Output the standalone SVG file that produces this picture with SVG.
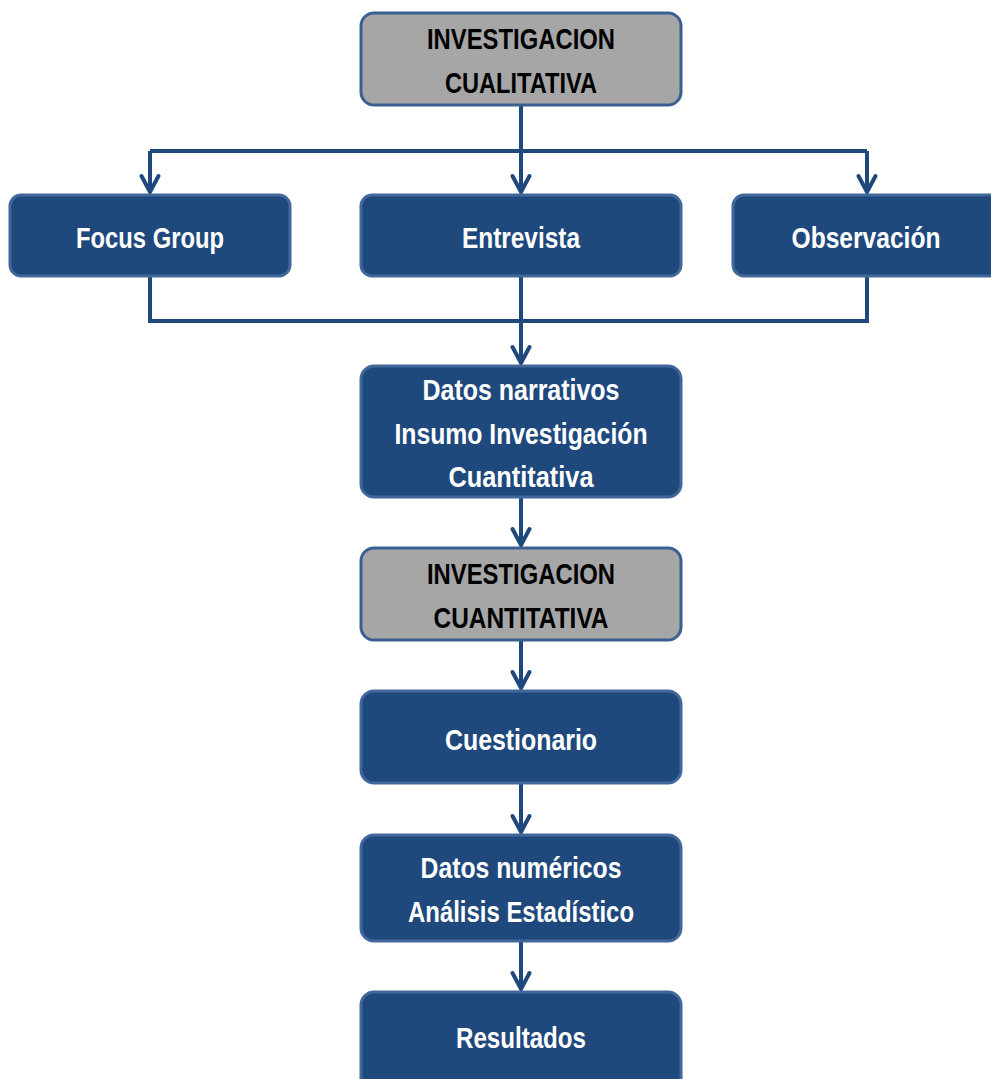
<svg xmlns="http://www.w3.org/2000/svg" width="991" height="1079" viewBox="0 0 991 1079">
<style>
.blue{fill:#1f497d;stroke:#41689a;stroke-width:3}
.gray{fill:#a6a6a6;stroke:#3a5f91;stroke-width:3}
.tw{font-family:"Liberation Sans",Arial,sans-serif;font-weight:bold;font-size:30px;fill:#ffffff;text-anchor:middle}
.tb{font-family:"Liberation Sans",Arial,sans-serif;font-weight:bold;font-size:30px;fill:#000000;text-anchor:middle}
.c{fill:none;stroke:#1f497d;stroke-width:4}
</style>
<defs>
<marker id="ah" viewBox="0 0 24 24" refX="21" refY="12" markerWidth="24" markerHeight="24" markerUnits="userSpaceOnUse" orient="auto">
<polyline points="5,3.5 21,12 5,20.5" fill="none" stroke="#1f497d" stroke-width="4" stroke-linecap="round"/>
</marker>
</defs>
<rect width="991" height="1079" fill="#ffffff"/>
<g id="connectors">
<path class="c" d="M521,105 V151 M150,151 H867"/>
<path class="c" d="M150,151 V192" marker-end="url(#ah)"/>
<path class="c" d="M521,151 V192" marker-end="url(#ah)"/>
<path class="c" d="M867,151 V192" marker-end="url(#ah)"/>
<path class="c" d="M150,276 V321 H867 V276"/>
<path class="c" d="M521,276 V363" marker-end="url(#ah)"/>
<path class="c" d="M521,497 V545" marker-end="url(#ah)"/>
<path class="c" d="M521,640 V688" marker-end="url(#ah)"/>
<path class="c" d="M521,783 V832" marker-end="url(#ah)"/>
<path class="c" d="M521,941 V989" marker-end="url(#ah)"/>
</g>
<g id="n-cualitativa">
<rect class="gray" x="361" y="13" width="320" height="92" rx="13"/>
<text class="tb" x="521" y="49" textLength="188" lengthAdjust="spacingAndGlyphs">INVESTIGACION</text>
<text class="tb" x="521" y="93" textLength="152" lengthAdjust="spacingAndGlyphs">CUALITATIVA</text>
</g>
<g id="n-focus">
<rect class="blue" x="10" y="195" width="280" height="81" rx="11"/>
<text class="tw" x="150" y="248" textLength="148" lengthAdjust="spacingAndGlyphs">Focus Group</text>
</g>
<g id="n-entrevista">
<rect class="blue" x="361" y="195" width="320" height="81" rx="11"/>
<text class="tw" x="521" y="248" textLength="118" lengthAdjust="spacingAndGlyphs">Entrevista</text>
</g>
<g id="n-observacion">
<rect class="blue" x="733" y="195" width="280" height="81" rx="11"/>
<text class="tw" x="866" y="248" textLength="149" lengthAdjust="spacingAndGlyphs">Observación</text>
</g>
<g id="n-datos-narrativos">
<rect class="blue" x="361" y="366" width="320" height="131" rx="13"/>
<text class="tw" x="521" y="400" textLength="197" lengthAdjust="spacingAndGlyphs">Datos narrativos</text>
<text class="tw" x="521" y="444" textLength="253" lengthAdjust="spacingAndGlyphs">Insumo Investigación</text>
<text class="tw" x="521" y="487" textLength="145" lengthAdjust="spacingAndGlyphs">Cuantitativa</text>
</g>
<g id="n-cuantitativa">
<rect class="gray" x="361" y="548" width="320" height="92" rx="13"/>
<text class="tb" x="521" y="584" textLength="188" lengthAdjust="spacingAndGlyphs">INVESTIGACION</text>
<text class="tb" x="521" y="628" textLength="175" lengthAdjust="spacingAndGlyphs">CUANTITATIVA</text>
</g>
<g id="n-cuestionario">
<rect class="blue" x="361" y="691" width="320" height="92" rx="13"/>
<text class="tw" x="521" y="750" textLength="152" lengthAdjust="spacingAndGlyphs">Cuestionario</text>
</g>
<g id="n-datos-numericos">
<rect class="blue" x="361" y="835" width="320" height="106" rx="13"/>
<text class="tw" x="521" y="878" textLength="201" lengthAdjust="spacingAndGlyphs">Datos numéricos</text>
<text class="tw" x="521" y="922" textLength="226" lengthAdjust="spacingAndGlyphs">Análisis Estadístico</text>
</g>
<g id="n-resultados">
<rect class="blue" x="361" y="992" width="320" height="100" rx="13"/>
<text class="tw" x="521" y="1048" textLength="130" lengthAdjust="spacingAndGlyphs">Resultados</text>
</g>
</svg>
